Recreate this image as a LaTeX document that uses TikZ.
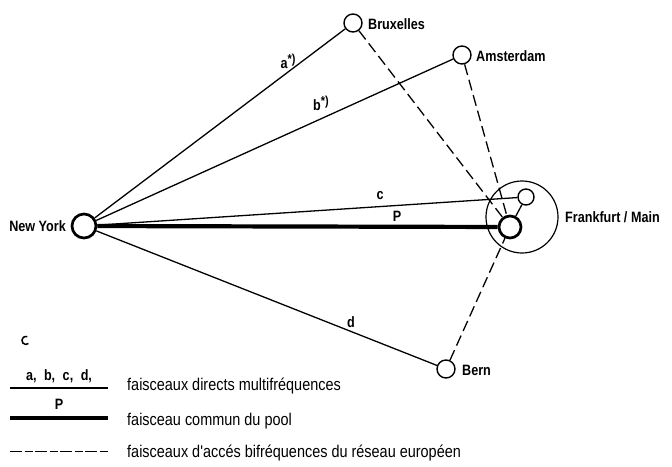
\documentclass[tikz,border=0pt]{standalone}
\usepackage{fontspec}
\setmainfont{Liberation Sans}
\newfontfamily\labfont{Liberation Sans}[FakeStretch=0.84]
\newfontfamily\legfont{Liberation Sans}[FakeStretch=0.85]
\newcommand{\starnote}{\raisebox{5pt}{\fontsize{13}{13}\selectfont *)}}
\begin{document}
\begin{tikzpicture}[x=1pt,y=-1pt,
  city/.style={circle,draw,line width=1.4pt,minimum size=18pt,inner sep=0pt},
  hub/.style={circle,draw,line width=2.7pt,minimum size=24pt,inner sep=0pt},
  lab/.style={font=\labfont\bfseries\fontsize{15}{17}\selectfont,inner sep=0pt},
  leg/.style={font=\legfont\fontsize{17}{19}\selectfont,inner sep=0pt,anchor=west},
  direct/.style={line width=1.3pt},
  pool/.style={line width=4.2pt},
  access/.style={line width=1.3pt,dash pattern=on 11pt off 5pt},
  legaccess/.style={line width=1pt,dash pattern=on 12pt off 2.5pt on 8pt off 2.5pt}]
\useasboundingbox[fill=white] (0,0) rectangle (672,466);

% nodes
\node[hub] (ny) at (84,226) {};
\node[city] (bx) at (353,23) {};
\node[city] (am) at (462,55) {};
\node[city] (be) at (446,369) {};
\node[hub,minimum size=22pt] (fth) at (510,227) {};
\node[city,minimum size=16pt] (fsm) at (526,197) {};
\node[circle,draw,line width=1.2pt,minimum size=72pt,inner sep=0pt] (fbig) at (522,217) {};

% labels of cities
\node[lab,anchor=east] (nyl) at (66,226) {New York};
\node[lab,anchor=west] (bxl) at (368,24) {Bruxelles};
\node[lab,anchor=west] (aml) at (476,56) {Amsterdam};
\node[lab,anchor=west] (bel) at (462,370) {Bern};
\node[lab,anchor=west] (fl) at (565,217) {Frankfurt / Main};

% direct links
\draw[direct] (ny) -- (bx);
\draw[direct] (ny) -- (am);
\draw[direct] (ny) -- (fsm);
\draw[direct] (ny) -- (be);
\draw[pool] (ny) -- (fth);

% access links
\draw[access] (bx) -- (fth);
\draw[access] (am) -- (fth);
\draw[access] (be) -- (fth);
\draw[direct] (fsm) -- (fth);

% line labels
\node[lab] (la) at (288,61) {a\starnote};
\node[lab] (lb) at (321,103) {b\starnote};
\node[lab] (lc) at (380,196) {c};
\node[lab] (lp) at (397,216) {P};
\node[lab] (ld) at (351,322) {d};

% small mark
\draw[line width=1.5pt] (28.5,343.5) arc[start angle=50,end angle=290,radius=4];

% legend
\coordinate (l1a) at (10,388); \coordinate (l1b) at (108,388);
\coordinate (l2a) at (10,418); \coordinate (l2b) at (108,418);
\coordinate (l3a) at (10,451); \coordinate (l3b) at (108,451);
\draw[direct] (l1a) -- (l1b);
\draw[pool] (l2a) -- (l2b);
\draw[legaccess] (l3a) -- (l3b);
\node[lab] (lg1) at (59,376) {a,\hspace{4pt} b,\hspace{4pt} c,\hspace{4pt} d,};
\node[lab] (lg2) at (59,404) {P};
\node[leg] (t1) at (127,386) {faisceaux directs multifréquences};
\node[leg] (t2) at (127,421) {faisceau commun du pool};
\node[leg] (t3) at (127,453) {faisceaux d'accés bifréquences du réseau européen};
\end{tikzpicture}
\end{document}
